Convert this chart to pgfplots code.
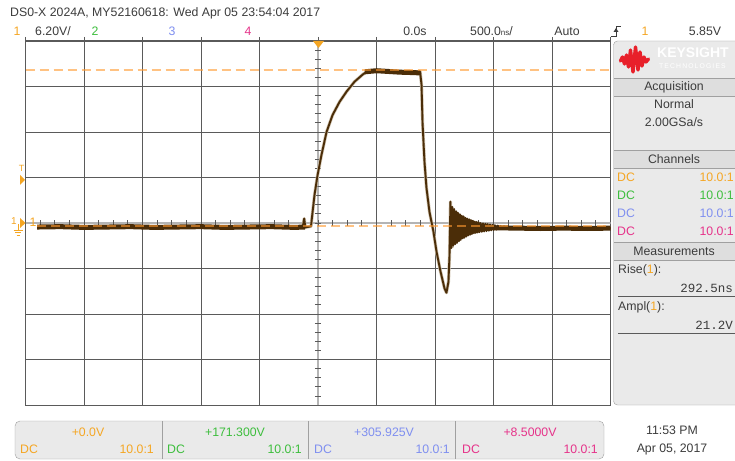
\documentclass[border=0pt]{standalone}
\usepackage{pgfplots}
\pgfplotsset{compat=1.18}
\usepackage{fontspec}
\setmainfont{Liberation Sans}
\newfontfamily\monof{Liberation Mono}
\definecolor{cho}{HTML}{F5A623}
\definecolor{chg}{HTML}{3DBE3D}
\definecolor{chb}{HTML}{7F8FF0}
\definecolor{chm}{HTML}{E6338A}
\definecolor{txt}{HTML}{3C3C3C}
\definecolor{gridc}{HTML}{5A5A5A}
\definecolor{cross}{HTML}{B4B4B4}
\definecolor{trace}{HTML}{4B2D08}
\definecolor{halo}{HTML}{CFC2AE}
\definecolor{dashc}{HTML}{FF9A30}
\definecolor{panel}{HTML}{EAEAEA}
\definecolor{panelh}{HTML}{DEDEDE}
\definecolor{frame}{HTML}{A0A0A0}
\definecolor{ksred}{HTML}{E8202A}
\begin{document}
\begin{tikzpicture}[font=\fontsize{12.3}{14}\selectfont]
\useasboundingbox (0,0) rectangle (735pt,460pt);
\fill[white] (0,0) rectangle (735pt,460pt);
\begin{axis}[at={(25.5pt,55pt)}, anchor=south west, width=585pt, height=364pt, scale only axis,
 xmin=-2500, xmax=2500, ymin=-24.8, ymax=24.8,
 xtick={-2500,-2000,...,2500}, ytick={-24.8,-18.6,-12.4,-6.2,0,6.2,12.4,18.6,24.8},
 xticklabels={}, yticklabels={},
 grid=major, major grid style={draw=gridc, line width=0.9pt},
 axis line style={draw=gridc, line width=1pt},
 xtick pos=right, ytick style={draw=none}, xtick style={draw=gridc, line width=0.9pt},
 tick align=outside, major tick length=4pt, clip=true]
% centre crosshair
\draw[cross, line width=1.6pt] (axis cs:0,-24.8) -- (axis cs:0,24.8);
\draw[cross, line width=1.6pt] (axis cs:-2500,0) -- (axis cs:2500,0);
\pgfplotsinvokeforeach{-2375,-2250,...,2375}{\draw[gridc, line width=0.8pt] (axis cs:#1,-0.42) -- (axis cs:#1,0.42);}
\pgfplotsinvokeforeach{-23.56,-22.32,...,23.6}{\draw[gridc, line width=0.8pt] (axis cs:-26,#1) -- (axis cs:26,#1);}
% trace halo + trace
\addplot[no marks, halo, line width=3.2pt, line join=round] coordinates {
(-130,-0.5) (-118,0.6) (-108,-0.6) (-60,-0.45) (-30,3.8) (-4,6.5) (30,9.3) (73,12.4) (124,14.7) (184,16.5) (244,17.9) (312,19.25) (380,20.2) (423,20.7)
(873,20.6) (885,18.8) (893,13.8) (910,8.35) (927,4.8) (953,1.5) (987,-1.2) (1013,-3.9) (1047,-6.6) (1081,-8.9) (1098,-9.5) (1115,-8.0) (1124,-4.4) (1132,2.9) (1145,-3.4)};
\addplot[no marks, trace, line width=5pt] coordinates {
(-2400,-0.55) (-2200,-0.5) (-2000,-0.6) (-1800,-0.55) (-1600,-0.5) (-1400,-0.6) (-1200,-0.55) (-1000,-0.5) (-800,-0.6) (-600,-0.55) (-400,-0.5) (-200,-0.6) (-110,-0.55)};
\addplot[no marks, trace, line width=5pt] coordinates {
(400,20.6) (500,20.75) (600,20.65) (700,20.55) (800,20.5) (875,20.45)};
\addplot[no marks, trace, line width=5pt] coordinates {
(1500,-0.65) (1700,-0.7) (1900,-0.75) (2100,-0.7) (2300,-0.75) (2500,-0.7)};
\addplot[no marks, trace, line width=1.9pt, line join=round] coordinates {
(-2400,-0.5) (-2200,-0.45) (-2000,-0.55) (-1800,-0.5) (-1600,-0.45) (-1400,-0.55) (-1200,-0.5) (-1000,-0.45) (-800,-0.55) (-600,-0.5) (-400,-0.45) (-200,-0.55)
(-130,-0.5) (-118,0.6) (-108,-0.6) (-60,-0.45) (-30,3.8) (-4,6.5) (30,9.3) (73,12.4) (124,14.7) (184,16.5) (244,17.9) (312,19.25) (380,20.2) (423,20.7)
(500,20.8) (600,20.7) (700,20.6) (800,20.6) (873,20.6) (885,18.8) (893,13.8) (910,8.35) (927,4.8) (953,1.5) (987,-1.2) (1013,-3.9) (1047,-6.6) (1081,-8.9) (1098,-9.5) (1115,-8.0) (1124,-4.4)
(1132,2.9) (1140,-3.4) (1148,2.2) (1156,-3.1) (1164,1.9) (1172,-2.9) (1180,1.6) (1188,-2.7) (1196,1.4) (1204,-2.5) (1212,1.2) (1220,-2.3) (1228,1.0) (1236,-2.1)
(1244,0.9) (1252,-2.0) (1260,0.7) (1268,-1.85) (1276,0.6) (1284,-1.7) (1292,0.5) (1300,-1.6) (1308,0.4) (1316,-1.5) (1324,0.3) (1332,-1.4) (1340,0.2) (1348,-1.35)
(1356,0.15) (1364,-1.3) (1372,0.1) (1380,-1.25) (1390,0.0) (1400,-1.2) (1410,-0.05) (1420,-1.15) (1430,-0.1) (1440,-1.1) (1450,-0.15) (1460,-1.05) (1470,-0.2) (1480,-1.0)
(1490,-0.25) (1500,-0.95) (1512,-0.3) (1524,-0.9) (1536,-0.35) (1548,-0.85) (1560,-0.4) (1575,-0.8) (1590,-0.45) (1605,-0.75) (1620,-0.5) (1640,-0.7) (1700,-0.65) (1900,-0.7) (2100,-0.65) (2300,-0.7) (2500,-0.7)};
% measurement level lines
\draw[dashc, opacity=0.6, line width=1.6pt, dash pattern=on 9pt off 5pt] (axis cs:-2500,20.85) -- (axis cs:2500,20.85);
\draw[dashc, opacity=0.6, line width=1.6pt, dash pattern=on 9pt off 5pt] (axis cs:-2400,-0.41) -- (axis cs:2500,-0.41);
\end{axis}
\begin{scope}[yshift=460pt, x=1pt, y=-1pt]
% top header
\node[anchor=west, txt, inner sep=0] at (10,13) {DS0-X 2024A, MY52160618: Wed Apr 05 23:54:04 2017};
\node[anchor=center, cho, inner sep=0] at (17,31) {1};
\node[anchor=west, txt, inner sep=0] at (35,31) {6.20V/};
\node[anchor=center, chg, inner sep=0] at (95,31) {2};
\node[anchor=center, chb, inner sep=0] at (172,31) {3};
\node[anchor=center, chm, inner sep=0] at (248,31) {4};
\node[anchor=center, txt, inner sep=0] at (415,31) {0.0s};
\node[anchor=west, txt, inner sep=0] at (470,31) {500.0{\fontsize{8}{8}\selectfont ns}/};
\node[anchor=center, txt, inner sep=0] at (567,31) {Auto};
\draw[txt, line width=0.9pt] (611,36) -- (616,36) -- (616,26) -- (621,26);
\fill[txt] (613.5,32) -- (618.5,32) -- (616,28) -- cycle;
\node[anchor=center, cho, inner sep=0] at (645,31) {1};
\node[anchor=center, txt, inner sep=0] at (705,31) {5.85V};
% trigger position marker
\fill[cho] (313,41) -- (324,41) -- (318.5,48) -- cycle;
% left markers
\node[anchor=center, cho, inner sep=0, font=\fontsize{9}{10}\selectfont] at (21.5,168) {T};
\fill[cho] (20,175) -- (25,180) -- (20,185) -- cycle;
\node[anchor=center, cho, inner sep=0, font=\fontsize{10}{10}\selectfont] at (14,221) {1};
\fill[cho] (20,218) -- (25.5,223) -- (20,228) -- cycle;
\draw[cho, line width=0.7pt] (18,224) -- (18,230) (13.5,230) -- (22.5,230) (15,232.5) -- (21,232.5) (16.5,235) -- (19.5,235);
\node[anchor=center, cho, inner sep=0] at (33,222) {1};
% right panel
\draw[frame, fill=panel, rounded corners=4pt] (613.5,41) rectangle (760,405);
\fill[panelh] (614,78) rectangle (735,96);
\fill[panelh] (614,150) rectangle (735,168);
\fill[panelh] (614,242) rectangle (735,260);
\draw[frame] (614,78) -- (735,78) (614,96) -- (735,96) (614,150) -- (735,150) (614,168) -- (735,168) (614,242) -- (735,242) (614,260) -- (735,260);
\draw[ksred, line width=3.4pt, line join=round, line cap=round] (620.5,61) -- (622.5,57) -- (624.5,64) -- (626.5,55) -- (628.5,67) -- (630.5,50) -- (633,72) -- (635.5,47) -- (638,70) -- (640,52) -- (642,66) -- (644,57) -- (646,62) -- (648.5,59);
\node[anchor=west, white, inner sep=0, font=\fontsize{14}{14}\selectfont\bfseries] at (657,53) {KEYSIGHT};
\node[anchor=west, white, inner sep=0, font=\fontsize{6.8}{7}\selectfont] at (659,66) {T\,E\,C\,H\,N\,O\,L\,O\,G\,I\,E\,S};
\node[anchor=center, txt, inner sep=0] at (674,87) {Acquisition};
\node[anchor=center, txt, inner sep=0] at (674,104) {Normal};
\node[anchor=center, txt, inner sep=0] at (674,122) {2.00GSa/s};
\node[anchor=center, txt, inner sep=0] at (674,159) {Channels};
\node[anchor=west, cho, inner sep=0] at (617,177) {DC};
\node[anchor=east, cho, inner sep=0] at (734,177) {10.0:1};
\node[anchor=west, chg, inner sep=0] at (617,195) {DC};
\node[anchor=east, chg, inner sep=0] at (734,195) {10.0:1};
\node[anchor=west, chb, inner sep=0] at (617,213) {DC};
\node[anchor=east, chb, inner sep=0] at (734,213) {10.0:1};
\node[anchor=west, chm, inner sep=0] at (617,231) {DC};
\node[anchor=east, chm, inner sep=0] at (734,231) {10.0:1};
\node[anchor=center, txt, inner sep=0] at (674,251) {Measurements};
\node[anchor=west, txt, inner sep=0] at (618,270) {Rise(\textcolor{cho}{1}):};
\node[anchor=east, txt, inner sep=0, font=\fontsize{12.5}{14}\selectfont\monof] at (733,288) {292.5ns};
\draw[gridc, line width=0.8pt] (618,296) -- (735,296);
\node[anchor=west, txt, inner sep=0] at (618,307) {Ampl(\textcolor{cho}{1}):};
\node[anchor=east, txt, inner sep=0, font=\fontsize{12.5}{14}\selectfont\monof] at (733,325) {21.2V};
\draw[gridc, line width=0.8pt] (618,333) -- (735,333);
% bottom panel
\draw[frame, fill=panel, rounded corners=5pt] (15,421) rectangle (604,459);
\draw[frame] (162,421) -- (162,459) (308.5,421) -- (308.5,459) (455,421) -- (455,459);
\node[anchor=center, cho, inner sep=0] at (88,432) {+0.0V};
\node[anchor=west, cho, inner sep=0] at (20,449) {DC};
\node[anchor=east, cho, inner sep=0] at (154,449) {10.0:1};
\node[anchor=center, chg, inner sep=0] at (235,432) {+171.300V};
\node[anchor=west, chg, inner sep=0] at (167,449) {DC};
\node[anchor=east, chg, inner sep=0] at (302,449) {10.0:1};
\node[anchor=center, chb, inner sep=0] at (384,432) {+305.925V};
\node[anchor=west, chb, inner sep=0] at (314,449) {DC};
\node[anchor=east, chb, inner sep=0] at (450,449) {10.0:1};
\node[anchor=center, chm, inner sep=0] at (530,432) {+8.5000V};
\node[anchor=west, chm, inner sep=0] at (462,449) {DC};
\node[anchor=east, chm, inner sep=0] at (598,449) {10.0:1};
\node[anchor=center, txt, inner sep=0] at (672,430) {11:53 PM};
\node[anchor=center, txt, inner sep=0] at (672,449) {Apr 05, 2017};
\end{scope}
\end{tikzpicture}
\end{document}
